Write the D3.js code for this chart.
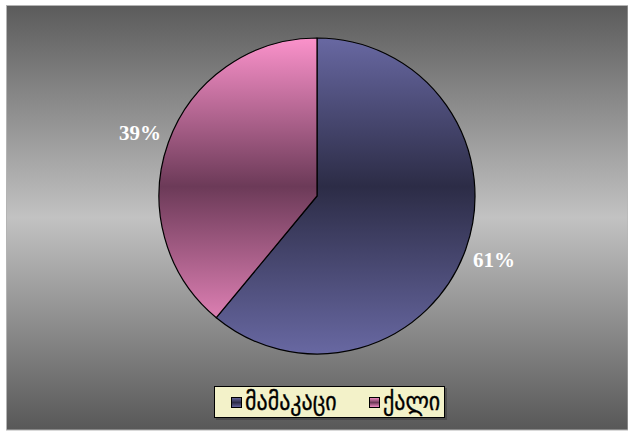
<!DOCTYPE html>
<html>
<head>
<meta charset="utf-8">
<script src="https://cdn.jsdelivr.net/npm/d3@7"></script>
<style>
  html, body { margin: 0; padding: 0; background: #ffffff; }
  svg { display: block; }
</style>
</head>
<body>
<script>
// Share of respondents by gender
const categories = ["მამაკაცი", "ქალი"];
const values = [61, 39];
const valueLabels = ["61%", "39%"];

const W = 628, H = 432;
const cx = 317, cy = 196, R = 158;

const svg = d3.select("body").append("svg")
  .attr("width", W).attr("height", H);

const defs = svg.append("defs");

// plot-area background: dark at top and bottom, light in the middle
const bg = defs.append("linearGradient").attr("id", "bgGrad")
  .attr("x1", 0).attr("y1", 0).attr("x2", 0).attr("y2", 1);
bg.append("stop").attr("offset", "0%").attr("stop-color", "#5b5b5b");
bg.append("stop").attr("offset", "50%").attr("stop-color", "#c2c2c2");
bg.append("stop").attr("offset", "100%").attr("stop-color", "#585858");

// slice fills: light at the rim, dark band through the centre
const sliceColors = [
  { light: "#6868a2", dark: "#2c2c46" },
  { light: "#fb92cb", dark: "#6c3a58" }
];
sliceColors.forEach((c, i) => {
  const g = defs.append("linearGradient").attr("id", "slice" + i)
    .attr("gradientUnits", "userSpaceOnUse")
    .attr("x1", 0).attr("y1", -R).attr("x2", 0).attr("y2", R);
  g.append("stop").attr("offset", "0%").attr("stop-color", c.light);
  g.append("stop").attr("offset", "47%").attr("stop-color", c.dark);
  g.append("stop").attr("offset", "100%").attr("stop-color", c.light);
  const s = defs.append("linearGradient").attr("id", "swatch" + i)
    .attr("x1", 0).attr("y1", 0).attr("x2", 0).attr("y2", 1);
  s.append("stop").attr("offset", "0%").attr("stop-color", c.light);
  s.append("stop").attr("offset", "50%").attr("stop-color", c.dark);
  s.append("stop").attr("offset", "100%").attr("stop-color", c.light);
});

svg.append("rect")
  .attr("x", 6.5).attr("y", 5.5)
  .attr("width", W - 6.5).attr("height", H - 5.5 - 2)
  .attr("fill", "url(#bgGrad)")
  .attr("stroke", "#b4b4b4").attr("stroke-width", 1);

const pie = d3.pie().sort(null).value(d => d);
const arcs = pie(values);
const arc = d3.arc().innerRadius(0).outerRadius(R);
const labelArc = d3.arc().innerRadius(188).outerRadius(188);

const g = svg.append("g").attr("transform", `translate(${cx},${cy})`);

g.selectAll("path.slice").data(arcs).enter().append("path")
  .attr("class", "slice")
  .attr("d", arc)
  .attr("fill", (d, i) => `url(#slice${i})`)
  .attr("stroke", "#000").attr("stroke-width", 1.2)
  .attr("stroke-linejoin", "round");

g.selectAll("text.lbl").data(arcs).enter().append("text")
  .attr("class", "lbl")
  .attr("transform", d => `translate(${labelArc.centroid(d)})`)
  .attr("text-anchor", "middle")
  .attr("dy", "0.35em")
  .attr("font-family", "'Liberation Serif', 'Times New Roman', serif")
  .attr("font-size", 21)
  .attr("font-weight", "bold")
  .attr("fill", "#ffffff")
  .text((d, i) => valueLabels[i]);

// legend
const lg = svg.append("g").attr("transform", "translate(214,386)");
lg.append("rect").attr("x", 2).attr("y", 2).attr("width", 231).attr("height", 32)
  .attr("fill", "#3a3a3a").attr("opacity", 0.5);
lg.append("rect").attr("x", 0.5).attr("y", 0.5).attr("width", 230).attr("height", 31)
  .attr("fill", "#f3f2c9").attr("stroke", "#000").attr("stroke-width", 1);

const items = [{ x: 17 }, { x: 155 }];
categories.forEach((c, i) => {
  const it = lg.append("g").attr("transform", `translate(${items[i].x},0)`);
  it.append("rect").attr("x", 0.5).attr("y", 11.5).attr("width", 10).attr("height", 10)
    .attr("fill", `url(#swatch${i})`).attr("stroke", "#000").attr("stroke-width", 1);
  // Georgian glyphs drawn a little taller than wide
  it.append("text")
    .attr("transform", "translate(14,24) scale(1,1.15)")
    .attr("font-family", "'DejaVu Sans', sans-serif")
    .attr("font-size", 22)
    .attr("fill", "#000")
    .attr("stroke", "#000").attr("stroke-width", 0.3)
    .text(c);
});
</script>
</body>
</html>
